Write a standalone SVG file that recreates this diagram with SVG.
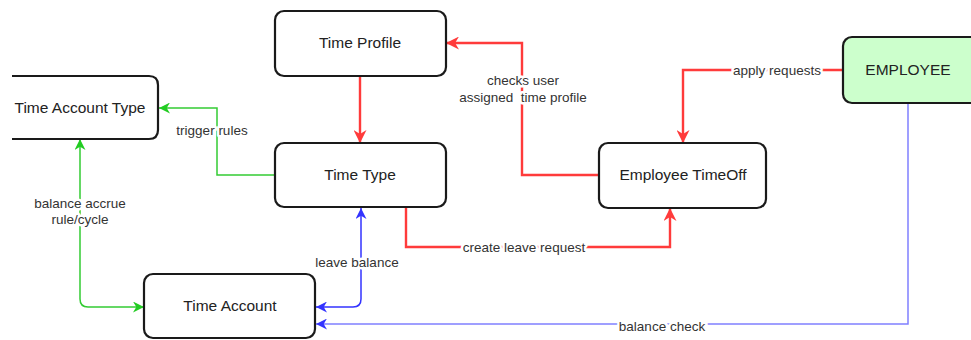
<svg xmlns="http://www.w3.org/2000/svg" width="971" height="340" viewBox="0 0 971 340">
  <style>
    .node { fill: #ffffff; stroke: #1a1a1a; stroke-width: 2.2; }
    .nlabel { font-family: "Liberation Sans", Arial, sans-serif; font-size: 15.5px; fill: #222222; text-anchor: middle; }
    .elabel { font-family: "Liberation Sans", Arial, sans-serif; font-size: 13.5px; fill: #333333; text-anchor: middle; stroke: #ffffff; stroke-width: 5; paint-order: stroke; stroke-linejoin: round; white-space: pre; }
    .red { fill: none; stroke: #ff3b3b; stroke-width: 2.4; }
    .green { fill: none; stroke: #33cc33; stroke-width: 1.5; }
    .blue { fill: none; stroke: #3333ff; stroke-width: 1.5; }
    .lightblue { fill: none; stroke: #8080ff; stroke-width: 1.5; }
  </style>
  <defs>
    <marker id="arrowRed" viewBox="0 0 10 10" refX="10" refY="5" markerWidth="13" markerHeight="13" markerUnits="userSpaceOnUse" orient="auto-start-reverse">
      <path d="M0,0 L10,5 L0,10 L3,5 Z" fill="#ff3b3b"/>
    </marker>
    <marker id="arrowGreen" viewBox="0 0 10 10" refX="10" refY="5" markerWidth="11" markerHeight="11" markerUnits="userSpaceOnUse" orient="auto-start-reverse">
      <path d="M0,0 L10,5 L0,10 L3,5 Z" fill="#22cc22"/>
    </marker>
    <marker id="arrowBlue" viewBox="0 0 10 10" refX="10" refY="5" markerWidth="11" markerHeight="11" markerUnits="userSpaceOnUse" orient="auto-start-reverse">
      <path d="M0,0 L10,5 L0,10 L3,5 Z" fill="#3333ff"/>
    </marker>
  </defs>

  <rect width="971" height="340" fill="#ffffff"/>

  <!-- connectors -->
  <g id="connectors">
    <!-- Time Profile to Time Type -->
    <path class="red" d="M360,76 L360,143" marker-end="url(#arrowRed)"/>
    <!-- Employee TimeOff to Time Profile -->
    <path class="red" d="M599,175 L522,175 L522,43 L446,43" marker-end="url(#arrowRed)"/>
    <!-- EMPLOYEE to Employee TimeOff -->
    <path class="red" d="M843,70 L683,70 L683,143" marker-end="url(#arrowRed)"/>
    <!-- Time Type to Employee TimeOff -->
    <path class="red" d="M406,208 L406,247 L670,247 L670,208" marker-end="url(#arrowRed)"/>
    <!-- Time Type to Time Account Type -->
    <path class="green" d="M275,175 L217,175 L217,108 L159,108" marker-end="url(#arrowGreen)"/>
    <!-- Time Account Type and Time Account -->
    <path class="green" d="M80,139 L80,299 Q80,307 88,307 L144,307" marker-start="url(#arrowGreen)" marker-end="url(#arrowGreen)"/>
    <!-- Time Account and Time Type -->
    <path class="blue" d="M316,307 L353,307 Q361,307 361,299 L361,208" marker-start="url(#arrowBlue)" marker-end="url(#arrowBlue)"/>
    <!-- EMPLOYEE to Time Account -->
    <path class="lightblue" d="M908,103 L908,324 L316,324" marker-end="url(#arrowBlue)"/>

    <text class="elabel" x="523" y="85">checks user</text>
    <text class="elabel" x="523" y="102">assigned  time profile</text>
    <text class="elabel" x="777" y="75">apply requests</text>
    <text class="elabel" x="524" y="252">create leave request</text>
    <text class="elabel" x="212" y="135">trigger rules</text>
    <text class="elabel" x="80" y="208">balance accrue</text>
    <text class="elabel" x="80" y="224">rule/cycle</text>
    <text class="elabel" x="357" y="267">leave balance</text>
    <text class="elabel" x="662" y="331">balance check</text>
  </g>

  <g id="time-profile">
    <rect class="node" x="275" y="11" width="171" height="65" rx="9"/>
    <text class="nlabel" x="360" y="48">Time Profile</text>
  </g>

  <g id="time-account-type">
    <path class="node" d="M12,76 L149,76 Q158,76 158,85 L158,130 Q158,139 149,139 L12,139" fill="#ffffff"/>
    <text class="nlabel" x="80" y="113">Time Account Type</text>
  </g>

  <g id="time-type">
    <rect class="node" x="275" y="143" width="171" height="64" rx="9"/>
    <text class="nlabel" x="360" y="180">Time Type</text>
  </g>

  <g id="employee-timeoff">
    <rect class="node" x="599" y="143" width="167" height="65" rx="9"/>
    <text class="nlabel" x="683" y="180">Employee TimeOff</text>
  </g>

  <g id="employee">
    <rect class="node" x="843" y="37" width="140" height="66" rx="9" style="fill:#ccffcc"/>
    <text class="nlabel" x="908" y="75">EMPLOYEE</text>
  </g>

  <g id="time-account">
    <rect class="node" x="144" y="274" width="171" height="64" rx="9"/>
    <text class="nlabel" x="230" y="311">Time Account</text>
  </g>
</svg>
